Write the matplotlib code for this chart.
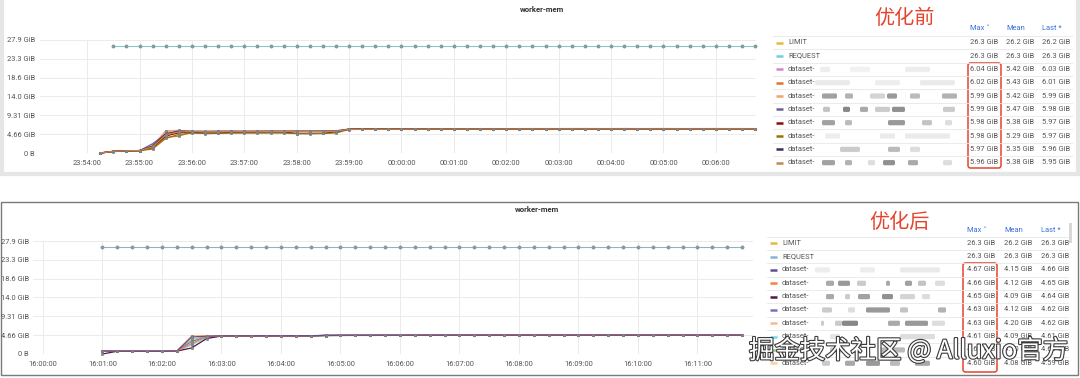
import matplotlib
matplotlib.use('Agg')
import matplotlib.pyplot as plt
import matplotlib.dates as mdates
import matplotlib.patheffects as pe
from matplotlib.patches import Rectangle, FancyBboxPatch
import pandas as pd

# ---------------- data ----------------
title = "worker-mem"
y_ticks = [0, 4.66, 9.31, 14.0, 18.6, 23.3, 27.9]
y_tick_labels = ["0 B", "4.66 GiB", "9.31 GiB", "14.0 GiB", "18.6 GiB", "23.3 GiB", "27.9 GiB"]

top_label = "优化前"
bot_label = "优化后"

top_x_ticks = ["2023-05-10 23:54:00", "2023-05-10 23:55:00", "2023-05-10 23:56:00", "2023-05-10 23:57:00",
               "2023-05-10 23:58:00", "2023-05-10 23:59:00", "2023-05-11 00:00:00", "2023-05-11 00:01:00",
               "2023-05-11 00:02:00", "2023-05-11 00:03:00", "2023-05-11 00:04:00", "2023-05-11 00:05:00",
               "2023-05-11 00:06:00"]
bot_x_ticks = ["2023-05-11 16:00:00", "2023-05-11 16:01:00", "2023-05-11 16:02:00", "2023-05-11 16:03:00",
               "2023-05-11 16:04:00", "2023-05-11 16:05:00", "2023-05-11 16:06:00", "2023-05-11 16:07:00",
               "2023-05-11 16:08:00", "2023-05-11 16:09:00", "2023-05-11 16:10:00", "2023-05-11 16:11:00"]
top_xlim = ["2023-05-10 23:53:06", "2023-05-11 00:06:46"]
bot_xlim = ["2023-05-11 15:59:50", "2023-05-11 16:11:56"]

top_series_start = "2023-05-10 23:54:15"   # dataset samples, every 15 s
top_limit_start = "2023-05-10 23:54:30"    # LIMIT / REQUEST samples, every 15 s
bot_series_start = "2023-05-11 16:01:00"
bot_limit_start = "2023-05-11 16:01:00"

top_limit = [26.3, 26.3, 26.3, 26.3, 26.3, 26.3, 26.3, 26.3, 26.3, 26.3,
             26.3, 26.3, 26.3, 26.3, 26.3, 26.3, 26.3, 26.3, 26.3, 26.3,
             26.3, 26.3, 26.3, 26.3, 26.3, 26.3, 26.3, 26.3, 26.3, 26.3,
             26.3, 26.3, 26.3, 26.3, 26.3, 26.3, 26.3, 26.3, 26.3, 26.3,
             26.3, 26.3, 26.3, 26.3, 26.3, 26.3, 26.3, 26.3, 26.3, 26.3]
top_request = [26.3, 26.3, 26.3, 26.3, 26.3, 26.3, 26.3, 26.3, 26.3, 26.3,
               26.3, 26.3, 26.3, 26.3, 26.3, 26.3, 26.3, 26.3, 26.3, 26.3,
               26.3, 26.3, 26.3, 26.3, 26.3, 26.3, 26.3, 26.3, 26.3, 26.3,
               26.3, 26.3, 26.3, 26.3, 26.3, 26.3, 26.3, 26.3, 26.3, 26.3,
               26.3, 26.3, 26.3, 26.3, 26.3, 26.3, 26.3, 26.3, 26.3, 26.3]

top_d1 = [0.00, 0.42, 0.55, 0.58, 1.60, 5.35, 5.55,
          5.30, 5.28, 5.31, 5.33, 5.30, 5.32, 5.35, 5.33, 5.36, 5.34, 5.37, 5.40,
          5.92, 5.95, 5.96, 5.97, 5.98, 5.98, 5.99, 6.00, 6.00, 6.01, 6.01, 6.02, 6.02, 6.02, 6.03, 6.03,
          6.03, 6.04, 6.04, 6.03, 6.03, 6.04, 6.03, 6.03, 6.04, 6.03, 6.03, 6.03, 6.04, 6.03, 6.03, 6.03]
top_d2 = [0.00, 0.40, 0.56, 0.60, 1.20, 3.90, 4.15,
          5.20, 5.25, 5.22, 5.28, 5.30, 5.27, 5.31, 5.30, 5.33, 5.32, 5.35, 5.36,
          5.90, 5.93, 5.94, 5.95, 5.96, 5.97, 5.97, 5.98, 5.98, 5.99, 5.99, 6.00, 6.00, 6.00, 6.01, 6.01,
          6.01, 6.02, 6.02, 6.01, 6.01, 6.02, 6.01, 6.01, 6.02, 6.01, 6.01, 6.01, 6.02, 6.01, 6.01, 6.01]
top_d3 = [0.00, 0.45, 0.55, 0.60, 1.90, 5.45, 5.60,
          5.35, 5.30, 5.33, 5.35, 5.31, 5.34, 5.36, 5.35, 5.37, 5.36, 5.38, 5.40,
          5.88, 5.91, 5.92, 5.93, 5.94, 5.95, 5.95, 5.96, 5.96, 5.97, 5.97, 5.97, 5.98, 5.98, 5.98, 5.98,
          5.99, 5.99, 5.98, 5.99, 5.99, 5.98, 5.99, 5.99, 5.98, 5.99, 5.99, 5.99, 5.98, 5.99, 5.99, 5.99]
top_d4 = [0.00, 0.38, 0.52, 0.57, 2.30, 4.60, 5.50,
          5.40, 5.38, 5.41, 5.42, 5.40, 5.43, 5.44, 5.42, 5.45, 5.44, 5.46, 5.48,
          5.90, 5.92, 5.93, 5.94, 5.95, 5.95, 5.96, 5.96, 5.97, 5.97, 5.97, 5.98, 5.98, 5.98, 5.98, 5.99,
          5.99, 5.98, 5.98, 5.99, 5.98, 5.98, 5.99, 5.98, 5.98, 5.98, 5.99, 5.98, 5.98, 5.98, 5.98, 5.98]
top_d5 = [0.00, 0.40, 0.55, 0.60, 1.40, 4.20, 5.00,
          5.20, 4.80, 4.85, 5.15, 5.18, 5.20, 5.22, 5.21, 4.80, 4.78, 4.82, 5.25,
          5.85, 5.88, 5.90, 5.91, 5.92, 5.93, 5.93, 5.94, 5.94, 5.95, 5.95, 5.95, 5.96, 5.96, 5.96, 5.97,
          5.97, 5.97, 5.98, 5.97, 5.97, 5.98, 5.97, 5.97, 5.97, 5.98, 5.97, 5.97, 5.97, 5.98, 5.97, 5.97]
top_d6 = [0.00, 0.35, 0.50, 0.55, 1.00, 3.60, 4.60,
          4.90, 4.85, 4.88, 4.90, 4.92, 4.91, 4.93, 4.92, 4.80, 4.82, 4.85, 4.95,
          5.80, 5.85, 5.88, 5.89, 5.90, 5.91, 5.92, 5.92, 5.93, 5.93, 5.94, 5.94, 5.95, 5.95, 5.95, 5.96,
          5.96, 5.96, 5.97, 5.97, 5.96, 5.97, 5.97, 5.98, 5.97, 5.97, 5.97, 5.98, 5.97, 5.97, 5.97, 5.97]
top_d7 = [0.00, 0.40, 0.54, 0.58, 1.70, 4.80, 5.30,
          5.25, 5.22, 5.24, 5.26, 5.25, 5.27, 5.28, 5.27, 5.29, 5.28, 5.30, 5.32,
          5.86, 5.89, 5.90, 5.91, 5.92, 5.92, 5.93, 5.93, 5.94, 5.94, 5.95, 5.95, 5.95, 5.96, 5.96, 5.96,
          5.96, 5.97, 5.96, 5.96, 5.97, 5.96, 5.96, 5.96, 5.97, 5.96, 5.96, 5.96, 5.97, 5.96, 5.96, 5.96]
top_d8 = [0.00, 0.41, 0.55, 0.59, 1.50, 4.50, 5.20,
          5.28, 5.26, 5.27, 5.29, 5.28, 5.30, 5.31, 5.30, 5.32, 5.31, 5.33, 5.34,
          5.84, 5.87, 5.88, 5.89, 5.90, 5.91, 5.91, 5.92, 5.92, 5.93, 5.93, 5.94, 5.94, 5.94, 5.95, 5.95,
          5.95, 5.96, 5.95, 5.95, 5.96, 5.95, 5.95, 5.95, 5.96, 5.95, 5.95, 5.95, 5.96, 5.95, 5.95, 5.95]

bot_limit = [26.3, 26.3, 26.3, 26.3, 26.3, 26.3, 26.3, 26.3, 26.3, 26.3, 26.3,
             26.3, 26.3, 26.3, 26.3, 26.3, 26.3, 26.3, 26.3, 26.3, 26.3, 26.3,
             26.3, 26.3, 26.3, 26.3, 26.3, 26.3, 26.3, 26.3, 26.3, 26.3, 26.3,
             26.3, 26.3, 26.3, 26.3, 26.3, 26.3, 26.3, 26.3, 26.3, 26.3, 26.3]
bot_request = [26.3, 26.3, 26.3, 26.3, 26.3, 26.3, 26.3, 26.3, 26.3, 26.3, 26.3,
               26.3, 26.3, 26.3, 26.3, 26.3, 26.3, 26.3, 26.3, 26.3, 26.3, 26.3,
               26.3, 26.3, 26.3, 26.3, 26.3, 26.3, 26.3, 26.3, 26.3, 26.3, 26.3,
               26.3, 26.3, 26.3, 26.3, 26.3, 26.3, 26.3, 26.3, 26.3, 26.3, 26.3]

bot_d1 = [0.75, 0.70, 0.68, 0.68, 0.68, 0.72, 4.20, 4.40,
          4.48, 4.49, 4.49, 4.50, 4.50, 4.51, 4.51,
          4.60, 4.62, 4.63, 4.63, 4.64, 4.64, 4.65, 4.65, 4.65, 4.66,
          4.66, 4.66, 4.67, 4.66, 4.66, 4.67, 4.66, 4.66, 4.66, 4.67,
          4.66, 4.66, 4.66, 4.67, 4.66, 4.66, 4.66, 4.66, 4.66]
bot_d2 = [0.80, 0.70, 0.68, 0.68, 0.68, 0.70, 2.60, 4.30,
          4.46, 4.47, 4.47, 4.48, 4.48, 4.49, 4.49,
          4.59, 4.61, 4.62, 4.62, 4.63, 4.63, 4.64, 4.64, 4.64, 4.65,
          4.65, 4.65, 4.66, 4.65, 4.65, 4.66, 4.65, 4.65, 4.65, 4.66,
          4.65, 4.65, 4.65, 4.66, 4.65, 4.65, 4.65, 4.65, 4.65]
bot_d3 = [0.00, 0.68, 0.67, 0.67, 0.67, 0.70, 1.50, 3.80,
          4.45, 4.46, 4.46, 4.47, 4.47, 4.48, 4.48,
          4.58, 4.60, 4.61, 4.61, 4.62, 4.62, 4.63, 4.63, 4.63, 4.64,
          4.64, 4.64, 4.65, 4.64, 4.64, 4.65, 4.64, 4.64, 4.64, 4.65,
          4.64, 4.64, 4.64, 4.65, 4.64, 4.64, 4.64, 4.64, 4.64]
bot_d4 = [0.78, 0.69, 0.68, 0.68, 0.68, 0.71, 3.10, 4.20,
          4.46, 4.46, 4.47, 4.47, 4.48, 4.48, 4.49,
          4.57, 4.59, 4.60, 4.60, 4.61, 4.61, 4.62, 4.62, 4.62, 4.62,
          4.63, 4.62, 4.62, 4.63, 4.62, 4.62, 4.62, 4.63, 4.62, 4.62,
          4.62, 4.63, 4.62, 4.62, 4.62, 4.62, 4.63, 4.62, 4.62]
bot_d5 = [0.82, 0.72, 0.70, 0.70, 0.70, 0.75, 4.55, 4.55,
          4.50, 4.51, 4.51, 4.52, 4.52, 4.53, 4.53,
          4.58, 4.59, 4.60, 4.60, 4.61, 4.61, 4.61, 4.62, 4.62, 4.62,
          4.63, 4.62, 4.62, 4.63, 4.62, 4.62, 4.62, 4.63, 4.62, 4.62,
          4.62, 4.63, 4.62, 4.62, 4.62, 4.62, 4.63, 4.62, 4.62]
bot_d6 = [0.76, 0.69, 0.67, 0.67, 0.67, 0.70, 2.20, 4.10,
          4.44, 4.45, 4.45, 4.46, 4.46, 4.47, 4.47,
          4.56, 4.58, 4.59, 4.59, 4.60, 4.60, 4.60, 4.61, 4.61, 4.61,
          4.61, 4.60, 4.61, 4.61, 4.61, 4.60, 4.61, 4.61, 4.61, 4.60,
          4.61, 4.61, 4.60, 4.61, 4.61, 4.61, 4.60, 4.61, 4.61]
bot_d7 = [0.77, 0.69, 0.67, 0.67, 0.67, 0.70, 3.60, 4.35,
          4.44, 4.45, 4.45, 4.46, 4.46, 4.47, 4.47,
          4.56, 4.58, 4.59, 4.59, 4.60, 4.60, 4.60, 4.61, 4.61, 4.60,
          4.61, 4.60, 4.61, 4.60, 4.61, 4.60, 4.61, 4.60, 4.61, 4.60,
          4.61, 4.60, 4.60, 4.61, 4.60, 4.60, 4.60, 4.61, 4.60]
bot_d8 = [0.79, 0.70, 0.68, 0.68, 0.68, 0.71, 4.40, 4.45,
          4.43, 4.44, 4.44, 4.45, 4.45, 4.46, 4.46,
          4.55, 4.57, 4.58, 4.58, 4.59, 4.59, 4.59, 4.60, 4.60, 4.59,
          4.60, 4.59, 4.60, 4.59, 4.60, 4.59, 4.59, 4.60, 4.59, 4.59,
          4.60, 4.59, 4.59, 4.60, 4.59, 4.59, 4.59, 4.60, 4.59]

legend_names = ["LIMIT", "REQUEST", "dataset-", "dataset-", "dataset-", "dataset-",
                "dataset-", "dataset-", "dataset-", "dataset-"]
legend_headers = ["Max ˅", "Mean", "Last *"]

top_max = ["26.3 GiB", "26.3 GiB", "6.04 GiB", "6.02 GiB", "5.99 GiB", "5.99 GiB", "5.98 GiB", "5.98 GiB", "5.97 GiB", "5.96 GiB"]
top_mean = ["26.2 GiB", "26.3 GiB", "5.42 GiB", "5.43 GiB", "5.42 GiB", "5.47 GiB", "5.38 GiB", "5.29 GiB", "5.35 GiB", "5.38 GiB"]
top_last = ["26.2 GiB", "26.3 GiB", "6.03 GiB", "6.01 GiB", "5.99 GiB", "5.98 GiB", "5.97 GiB", "5.97 GiB", "5.96 GiB", "5.95 GiB"]

bot_max = ["26.3 GiB", "26.3 GiB", "4.67 GiB", "4.66 GiB", "4.65 GiB", "4.63 GiB", "4.63 GiB", "4.61 GiB", "4.61 GiB", "4.60 GiB"]
bot_mean = ["26.2 GiB", "26.3 GiB", "4.15 GiB", "4.12 GiB", "4.09 GiB", "4.12 GiB", "4.20 GiB", "4.09 GiB", "4.10 GiB", "4.08 GiB"]
bot_last = ["26.3 GiB", "26.3 GiB", "4.66 GiB", "4.65 GiB", "4.64 GiB", "4.62 GiB", "4.62 GiB", "4.61 GiB", "4.60 GiB", "4.59 GiB"]

top_colors = ["#EAB839", "#6ED0E0", "#D683CE", "#E0752D", "#F4A46A", "#705DA0",
              "#890F02", "#967302", "#3F2B5B", "#C8864A"]
bot_colors = ["#EAB839", "#82B5D8", "#614D93", "#EF843C", "#511749", "#806EB7",
              "#F9BA8F", "#70DBED", "#9AC48A", "#F4D598"]

watermark = "掘金技术社区 @ Alluxio官方"

# ---------------- figure ----------------
W, H = 1080, 378
fig = plt.figure(figsize=(W / 100, H / 100), dpi=100)
fig.patch.set_facecolor("white")

UI = ["Roboto", "DejaVu Sans"]
CJK = ["Noto Sans CJK SC", "DejaVu Sans"]

ov = fig.add_axes([0, 0, 1, 1], zorder=0)
ov.set_xlim(0, W)
ov.set_ylim(H, 0)
ov.axis("off")

# panel frames
ov.add_patch(Rectangle((1.5, -3), 1076, 177, fill=False, edgecolor="#e6e6e6", linewidth=3))
ov.add_patch(Rectangle((0.5, 202), 1077.5, 173, fill=False, edgecolor="#7a7a7a", linewidth=1.0))


def px_axes(l, t, r, b):
    return fig.add_axes([l / W, 1 - b / H, (r - l) / W, (b - t) / H], zorder=2)


def draw_chart(ax, s_start, l_start, series, limit, request, colors, xticks, xlim, ypad, reverse):
    ax.set_facecolor("none")
    st = pd.date_range(s_start, periods=len(series[0]), freq="15s")
    lt = pd.date_range(l_start, periods=len(limit), freq="15s")
    pairs = list(zip(series, colors[2:]))
    if reverse:
        pairs = pairs[::-1]
    for vals, c in pairs:
        ax.plot(st[:len(vals)], vals, color=c, lw=0.9, marker="o", ms=1.9,
                mfc="#8a8a8a", mec="#777777", mew=0.3, clip_on=False, zorder=3)
    ax.plot(lt, limit, color=colors[0], lw=0.8, marker="o", ms=1.6,
            mfc="#8a9a9c", mec="#8a9a9c", clip_on=False, zorder=3)
    ax.plot(lt, request, color=colors[1], lw=0.7, marker="o", ms=1.6,
            mfc="#8a9a9c", mec="#8a9a9c", clip_on=False, zorder=3)
    ax.set_ylim(0, 27.9)
    ax.set_yticks(y_ticks)
    ax.set_yticklabels(y_tick_labels)
    ax.set_xlim(pd.to_datetime(xlim[0]), pd.to_datetime(xlim[1]))
    ax.set_xticks(pd.to_datetime(xticks))
    ax.xaxis.set_major_formatter(mdates.DateFormatter("%H:%M:%S"))
    for s in ax.spines.values():
        s.set_visible(False)
    ax.grid(True, color="#ebebeb", lw=0.7)
    ax.set_axisbelow(True)
    ax.tick_params(length=0, labelsize=5.4, colors="#555555")
    ax.tick_params(axis="y", pad=ypad)
    ax.tick_params(axis="x", pad=5)
    for lab in ax.get_xticklabels() + ax.get_yticklabels():
        lab.set_family(UI)


ax_top = px_axes(40, 40, 756, 153)
draw_chart(ax_top, top_series_start, top_limit_start,
           [top_d1, top_d2, top_d3, top_d4, top_d5, top_d6, top_d7, top_d8],
           top_limit, top_request, top_colors, top_x_ticks, top_xlim, 3.6, False)

ax_bot = px_axes(33, 241, 753, 354)
draw_chart(ax_bot, bot_series_start, bot_limit_start,
           [bot_d1, bot_d2, bot_d3, bot_d4, bot_d5, bot_d6, bot_d7, bot_d8],
           bot_limit, bot_request, bot_colors, bot_x_ticks, bot_xlim, 3.0, True)

# titles
ov.text(542, 9, title, ha="center", va="center", fontsize=5.6, family=UI,
        fontweight="bold", color="#333333")
ov.text(537, 210, title, ha="center", va="center", fontsize=5.6, family=UI,
        fontweight="bold", color="#333333")

# blurred-name decoration blocks (x0, x1, alpha) per dataset row
blur_rows = [
    [(820, 830, 0.10), (850, 870, 0.08), (905, 930, 0.10)],
    [(815, 850, 0.12), (875, 900, 0.10), (920, 955, 0.12)],
    [(822, 837, 0.55), (845, 853, 0.45), (870, 885, 0.25), (887, 897, 0.6), (910, 920, 0.4), (942, 957, 0.45)],
    [(823, 830, 0.35), (843, 850, 0.7), (860, 868, 0.5), (875, 890, 0.3), (892, 905, 0.65), (943, 955, 0.3)],
    [(822, 835, 0.55), (845, 852, 0.4), (888, 905, 0.6), (922, 932, 0.35), (945, 952, 0.2)],
    [(825, 840, 0.10), (880, 895, 0.12), (905, 950, 0.12)],
    [(840, 860, 0.30), (888, 900, 0.4), (910, 920, 0.2)],
    [(822, 835, 0.55), (845, 852, 0.45), (868, 875, 0.2), (883, 895, 0.65), (908, 918, 0.5), (943, 952, 0.2)],
]
blur_rows_b = [
    [(815, 830, 0.10), (860, 875, 0.10), (900, 940, 0.12)],
    [(826, 834, 0.5), (838, 850, 0.6), (857, 866, 0.3), (886, 890, 0.5), (905, 912, 0.55), (918, 926, 0.35), (935, 945, 0.2)],
    [(826, 834, 0.5), (845, 850, 0.3), (858, 870, 0.55), (882, 893, 0.65), (900, 915, 0.25), (922, 930, 0.2)],
    [(822, 832, 0.3), (848, 855, 0.2), (866, 890, 0.6), (900, 908, 0.35), (938, 946, 0.45)],
    [(821, 824, 0.3), (835, 842, 0.3), (842, 858, 0.7), (888, 900, 0.5), (905, 928, 0.6), (932, 945, 0.2)],
    [(830, 840, 0.15), (900, 935, 0.2)],
    [(830, 845, 0.3), (880, 905, 0.4)],
    [(822, 830, 0.3), (845, 855, 0.5), (866, 880, 0.6), (890, 900, 0.4), (915, 930, 0.5)],
]


def draw_table(label, label_xy, header_y, row_y0, row_dy, colx, names, maxs, means, lasts,
               colors, blurs, box, sep_x):
    ov.text(label_xy[0], label_xy[1], label, ha="center", va="center", fontsize=14.5,
            family=CJK, color="#e5442e")
    for hx, h in zip(colx, legend_headers):
        ov.text(hx, header_y, h, ha="left", va="center", fontsize=5.4, family=UI, color="#3a6fd8")
    for i, (nm, mx, mn, ls, c) in enumerate(zip(names, maxs, means, lasts, colors)):
        y = row_y0 + i * row_dy
        ov.plot([sep_x[0] + 3, sep_x[0] + 10], [y, y], color=c, lw=1.8, solid_capstyle="butt")
        ov.text(sep_x[0] + 15, y, nm, ha="left", va="center", fontsize=5.4, family=UI, color="#555555")
        ov.text(colx[0], y, mx, ha="left", va="center", fontsize=5.4, family=UI, color="#555555")
        ov.text(colx[1], y, mn, ha="left", va="center", fontsize=5.4, family=UI, color="#555555")
        ov.text(colx[2], y, ls, ha="left", va="center", fontsize=5.4, family=UI, color="#555555")
        ov.plot(sep_x, [y - row_dy / 2, y - row_dy / 2], color="#e8e8e8", lw=0.6)
        if i >= 2:
            for (a, b, al) in blurs[i - 2]:
                ov.add_patch(FancyBboxPatch((a, y - 2.6), b - a, 5.2,
                                            boxstyle="round,pad=0,rounding_size=1.5",
                                            facecolor="#555555", edgecolor="none", alpha=al))
    x0, y0, x1, y1 = box
    ov.add_patch(FancyBboxPatch((x0, y0), x1 - x0, y1 - y0,
                                boxstyle="round,pad=0,rounding_size=2.5",
                                fill=False, edgecolor="#e5442e", lw=1.1))


draw_table(top_label, (904, 18), 29, 42.7, 13.33, (970, 1006, 1042), legend_names,
           top_max, top_mean, top_last, top_colors, blur_rows, (968, 63, 1001, 168), (773, 1072))
draw_table(bot_label, (899, 222), 230, 243.3, 13.33, (967, 1004, 1041), legend_names,
           bot_max, bot_mean, bot_last, bot_colors, blur_rows_b, (963, 263, 997, 372), (767, 1068))

# small scrollbar of the lower legend
ov.add_patch(Rectangle((1069, 223), 3, 20, facecolor="#d8d8d8", edgecolor="none"))

# watermark
fig.text(749 / W, 1 - 351 / H, watermark, ha="left", va="center", fontsize=18.3,
         family=CJK, color="white", zorder=10,
         path_effects=[pe.withStroke(linewidth=1.6, foreground="#3a3a3a")])

fig.savefig("out.png", dpi=100, facecolor="white")
